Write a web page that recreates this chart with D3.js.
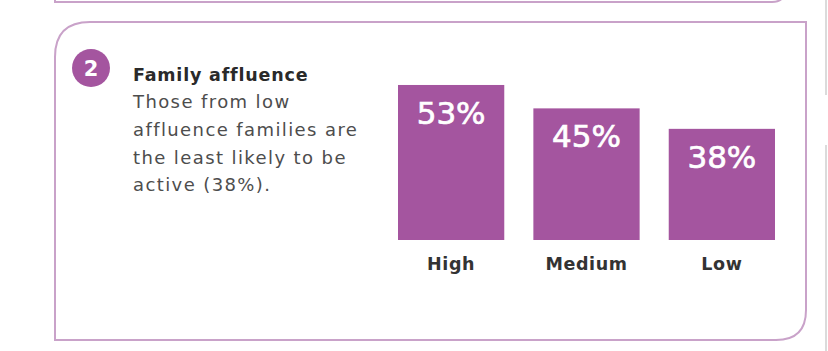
<!DOCTYPE html>
<html>
<head>
<meta charset="utf-8">
<script src="https://cdn.jsdelivr.net/npm/d3@7"></script>
<style>
  html, body { margin: 0; padding: 0; background: #ffffff; }
  svg { display: block; }
</style>
</head>
<body>
<script>
const categories = ["High", "Medium", "Low"];
const values = [53, 45, 38];
const valueLabels = ["53%", "45%", "38%"];
const titleText = "Family affluence";
const bodyLines = ["Those from low", "affluence families are", "the least likely to be", "active (38%)."];
const badgeNumber = "2";

const W = 828, H = 351;
const purple = "#a4559f";
const border = "#c9a2c9";
const FONT = "'DejaVu Sans', sans-serif";

const svg = d3.select("body").append("svg").attr("width", W).attr("height", H);
svg.append("rect").attr("width", W).attr("height", H).attr("fill", "#fff");

// previous card bottom edge
svg.append("path")
  .attr("d", "M55,-10 L55,2 L772,2 Q785,2 785,-11")
  .attr("fill", "none").attr("stroke", border).attr("stroke-width", 2);

// right-side grey edge
svg.append("line").attr("x1", 826).attr("x2", 826).attr("y1", 0).attr("y2", 95)
  .attr("stroke", "#cfcfcf").attr("stroke-width", 1.5);
svg.append("line").attr("x1", 826).attr("x2", 826).attr("y1", 145).attr("y2", 351)
  .attr("stroke", "#cfcfcf").attr("stroke-width", 1.5);

// main card
const L = 55, T = 22, R = 806, B = 340, r1 = 35, r2 = 30;
svg.append("path")
  .attr("d", `M${L},${T + r1} Q${L},${T} ${L + r1},${T} L${R},${T} L${R},${B - r2} Q${R},${B} ${R - r2},${B} L${L},${B} Z`)
  .attr("fill", "none").attr("stroke", border).attr("stroke-width", 2);

// badge
svg.append("circle").attr("cx", 91).attr("cy", 68).attr("r", 19).attr("fill", purple);
svg.append("text").attr("x", 91).attr("y", 76).attr("text-anchor", "middle")
  .attr("font-family", FONT).attr("font-weight", 700)
  .attr("font-size", 21).attr("fill", "#fff").text(badgeNumber);

// text block
svg.append("text").attr("x", 133).attr("y", 81)
  .attr("font-family", FONT).attr("font-weight", 700)
  .attr("font-size", 17.5).attr("letter-spacing", 0.8).attr("fill", "#2a2a2a").text(titleText);
svg.append("g").selectAll("text").data(bodyLines).join("text")
  .attr("x", 133).attr("y", (d, i) => 108 + i * 27.8)
  .attr("font-family", FONT).attr("font-weight", 400)
  .attr("font-size", 18).attr("letter-spacing", 1.4).attr("fill", "#4d4d4d").text(d => d);

// bars
const x = d3.scaleBand().domain(categories).range([398, 775]).paddingInner(0.215).paddingOuter(0);
const y = d3.scaleLinear().domain([0, 60]).range([240, 240 - 60 * 2.925]);

const g = svg.append("g");
g.selectAll("rect.bar").data(values).join("rect").attr("class", "bar")
  .attr("x", (d, i) => x(categories[i]))
  .attr("y", d => y(d))
  .attr("width", x.bandwidth())
  .attr("height", d => y(0) - y(d))
  .attr("fill", purple);

g.selectAll("text.val").data(values).join("text").attr("class", "val")
  .attr("x", (d, i) => x(categories[i]) + x.bandwidth() / 2)
  .attr("y", d => y(d) + 39)
  .attr("text-anchor", "middle")
  .attr("font-family", FONT).attr("font-weight", 400)
  .attr("font-size", 31).attr("fill", "#fff")
  .attr("stroke", "#fff").attr("stroke-width", 0.7)
  .text((d, i) => valueLabels[i]);

// category axis labels
const xAxis = d3.axisBottom(x).tickSize(0).tickPadding(0);
const ax = svg.append("g").attr("transform", `translate(0,${y(0)})`).call(xAxis);
ax.select(".domain").remove();
ax.selectAll("text")
  .attr("dy", 0).attr("y", 30)
  .attr("font-family", FONT).attr("font-weight", 700)
  .attr("font-size", 17.5).attr("letter-spacing", 0.6).attr("fill", "#333");
</script>
</body>
</html>
